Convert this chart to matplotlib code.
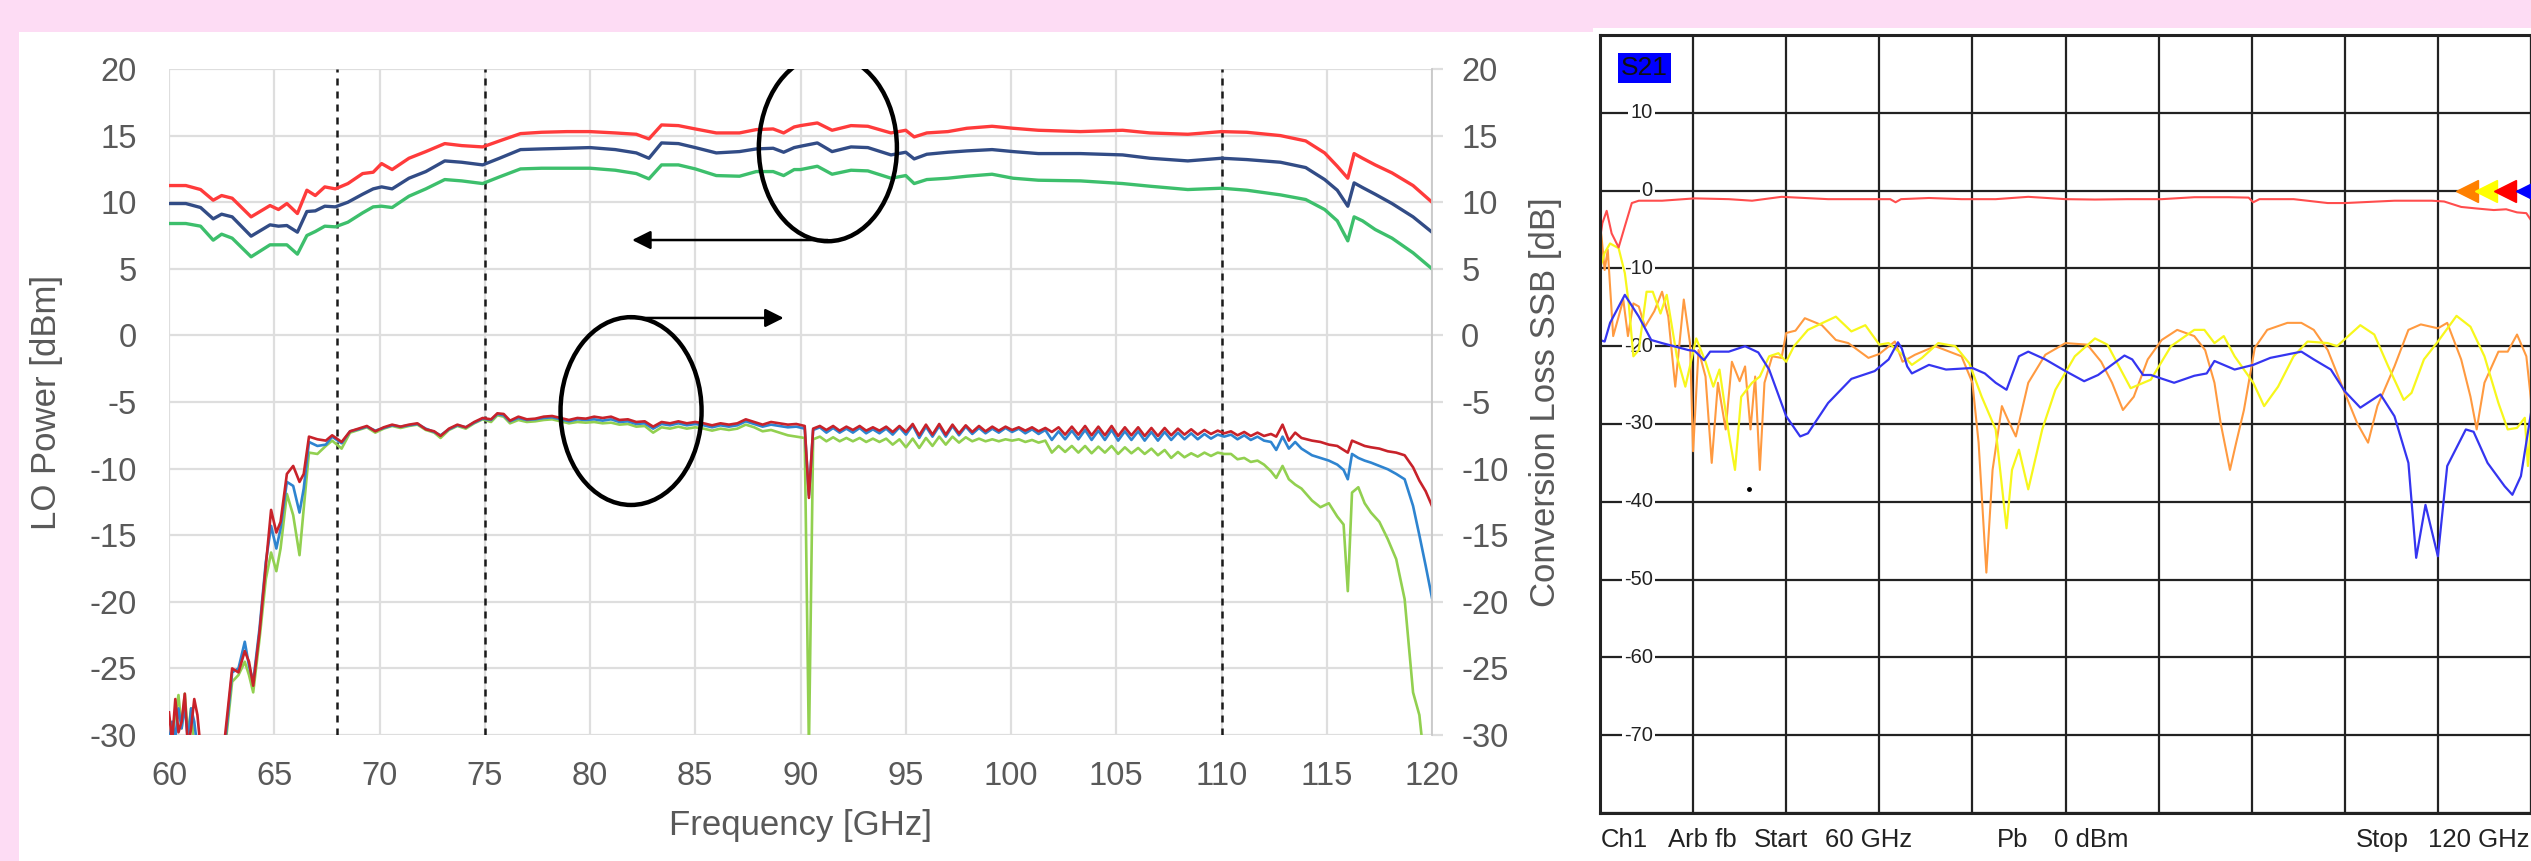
"""Frequency response figure: LO power / conversion loss (left) and VNA S21 capture (right)."""
import matplotlib
matplotlib.use("Agg")
import matplotlib.pyplot as plt
from matplotlib.patches import Ellipse, Rectangle

plt.rcParams["font.family"] = ["Liberation Sans", "DejaVu Sans"]
plt.rcParams["axes.unicode_minus"] = False

W, H = 2531, 861

# ---------------------------------------------------------------- left chart data
lo_freq = [60.0, 60.8, 61.5, 62.1, 62.5, 63.0, 63.9, 64.8, 65.2, 65.6, 66.1, 66.55, 66.95, 67.4,
           67.9, 68.5, 69.2, 69.7, 70.1, 70.6, 71.4, 72.2, 73.1, 73.9, 74.9, 75.7, 76.7, 77.7,
           78.9, 80.0, 81.2, 82.2, 82.8, 83.4, 84.2, 85.0, 86.0, 87.1, 87.9, 88.7, 89.2, 89.7,
           90.0, 90.8, 91.5, 92.4, 93.2, 94.3, 95.0, 95.4, 96.0, 97.0, 97.9, 99.1, 100.1, 101.3,
           103.3, 105.3, 106.6, 108.4, 110.0, 111.2, 112.8, 114.0, 114.9, 115.5, 116.0, 116.3,
           116.7, 117.3, 118.1, 119.1, 120.0]
lo_red = [11.25, 11.25, 10.95, 10.15, 10.5, 10.3, 8.9, 9.75, 9.45, 9.9, 9.15, 10.9, 10.5, 11.15,
          11.0, 11.4, 12.15, 12.25, 12.9, 12.45, 13.3, 13.8, 14.4, 14.25, 14.15, 14.6, 15.15, 15.25,
          15.3, 15.3, 15.2, 15.1, 14.75, 15.8, 15.75, 15.5, 15.2, 15.2, 15.45, 15.5, 15.2, 15.65,
          15.75, 15.95, 15.4, 15.75, 15.7, 15.2, 15.4, 14.9, 15.2, 15.3, 15.55, 15.7, 15.55, 15.4,
          15.3, 15.4, 15.2, 15.1, 15.3, 15.25, 15.0, 14.6, 13.7, 12.7, 11.8, 13.65,
          13.3, 12.8, 12.2, 11.25, 10.0]
lo_navy = [9.9, 9.9, 9.6, 8.75, 9.1, 8.9, 7.45, 8.3, 8.2, 8.25, 7.75, 9.3, 9.35, 9.7,
           9.65, 10.0, 10.6, 11.0, 11.15, 11.0, 11.8, 12.3, 13.1, 13.0, 12.8, 13.3, 13.95, 14.0,
           14.05, 14.1, 13.95, 13.7, 13.3, 14.45, 14.4, 14.1, 13.7, 13.8, 14.0, 14.05, 13.75, 14.1,
           14.2, 14.45, 13.8, 14.15, 14.1, 13.55, 13.75, 13.25, 13.6, 13.75, 13.85, 13.95, 13.8, 13.65,
           13.65, 13.55, 13.3, 13.1, 13.3, 13.2, 13.0, 12.6, 11.7, 10.9, 9.7, 11.45,
           11.1, 10.6, 9.9, 8.9, 7.75]
lo_green = [8.4, 8.4, 8.2, 7.15, 7.6, 7.3, 5.9, 6.8, 6.8, 6.8, 6.1, 7.5, 7.8, 8.2,
            8.15, 8.5, 9.2, 9.65, 9.7, 9.6, 10.45, 11.0, 11.7, 11.6, 11.4, 11.9, 12.5, 12.55,
            12.55, 12.55, 12.4, 12.15, 11.75, 12.8, 12.8, 12.5, 12.0, 11.95, 12.3, 12.3, 12.0, 12.45,
            12.45, 12.7, 12.1, 12.4, 12.35, 11.8, 12.0, 11.4, 11.7, 11.8, 11.95, 12.1, 11.8, 11.65,
            11.6, 11.4, 11.2, 10.95, 11.05, 10.9, 10.55, 10.2, 9.45, 8.6, 7.1, 8.9,
            8.6, 7.95, 7.3, 6.2, 5.0]

cl_freq = [
    # noisy start
    60.0, 60.15, 60.3, 60.45, 60.6, 60.75, 60.9, 61.05, 61.2, 61.35, 61.5, 61.65, 62.2, 62.6,
    # rise
    62.8, 63.0, 63.3, 63.6, 63.8, 64.0, 64.3, 64.6, 64.85, 65.1, 65.3, 65.6, 65.9, 66.2, 66.4,
    66.65, 67.05, 67.45, 67.75, 68.2,
    # flat part
    68.6, 69.0, 69.4, 69.8, 70.2, 70.6, 71.0, 71.4, 71.8, 72.2, 72.6, 72.9, 73.3, 73.7, 74.1,
    74.5, 74.9, 75.3, 75.6, 75.9, 76.2, 76.6, 77.0, 77.4, 77.8, 78.2, 78.6, 79.0, 79.4, 79.8,
    80.2, 80.6, 81.0, 81.4, 81.8, 82.2, 82.6, 83.0, 83.4, 83.8, 84.2, 84.6, 85.0, 85.4, 85.8,
    86.2, 86.6, 87.0, 87.4, 87.8, 88.2, 88.6, 89.0, 89.4, 89.8, 90.2,
    # spike
    90.4,
    # ripple
    90.6, 90.92, 91.23, 91.55, 91.86, 92.18, 92.49, 92.81, 93.12, 93.44, 93.75, 94.07, 94.38,
    94.7, 95.01, 95.33, 95.64, 95.96, 96.27, 96.59, 96.9, 97.22, 97.53, 97.85, 98.16, 98.48,
    98.79, 99.11, 99.42, 99.74, 100.05, 100.37, 100.68, 101.0, 101.31, 101.63, 101.94, 102.26,
    102.57, 102.89, 103.2, 103.52, 103.83, 104.15, 104.46, 104.78, 105.09, 105.41, 105.72,
    106.04, 106.35, 106.67, 106.98, 107.3, 107.61, 107.93, 108.24, 108.56, 108.87, 109.19,
    109.5, 109.82, 110.13, 110.45, 110.76, 111.08, 111.39, 111.71, 112.02,
    # roll-off
    112.35, 112.6, 112.9, 113.2, 113.5, 113.8, 114.3, 114.7, 115.1, 115.5, 115.8, 116.0, 116.2,
    116.5, 116.8, 117.1, 117.5, 117.9, 118.3, 118.7, 119.1, 119.4, 119.7, 120.0]
cl_red = [
    -28.3, -30.5, -27.3, -29.8, -29.0, -26.9, -31.0, -29.5, -27.3, -28.5, -31.0, -33.0, -33.0, -31.0,
    -28.0, -25.0, -25.3, -23.7, -24.5, -26.3, -22.3, -17.3, -13.1, -14.8, -14.0, -10.4, -9.8, -11.0,
    -10.4, -7.6, -7.8, -7.9, -7.5, -8.0,
    -7.2, -7.0, -6.8, -7.2, -6.9, -6.7, -6.85, -6.7, -6.6, -7.05, -7.2, -7.55, -7.0, -6.7, -6.9,
    -6.5, -6.2, -6.3, -5.85, -5.9, -6.4, -6.1, -6.3, -6.25, -6.1, -6.05, -6.2, -6.35, -6.2, -6.25,
    -6.1, -6.2, -6.1, -6.35, -6.3, -6.5, -6.45, -6.85, -6.5, -6.6, -6.45, -6.6, -6.5, -6.6, -6.75,
    -6.6, -6.7, -6.6, -6.3, -6.5, -6.7, -6.5, -6.6, -6.7, -6.65, -6.8,
    -12.2,
    -7.0, -6.8, -7.1, -6.8, -7.15, -6.85, -7.1, -6.8, -7.15, -6.9, -7.15, -6.85, -7.25,
    -6.8, -7.25, -6.65, -7.5, -6.7, -7.45, -6.65, -7.45, -6.7, -7.35, -6.75, -7.25, -6.8,
    -7.2, -6.85, -7.15, -6.85, -7.1, -6.9, -7.15, -6.9, -7.2, -6.95, -7.25, -6.9,
    -7.45, -6.85, -7.45, -6.8, -7.5, -6.85, -7.5, -6.8, -7.55, -6.9, -7.5,
    -6.9, -7.55, -6.95, -7.55, -6.95, -7.5, -7.0, -7.45, -7.05, -7.45, -7.1,
    -7.4, -7.15, -7.35, -7.2, -7.5, -7.25, -7.55, -7.3, -7.55,
    -7.4, -7.6, -6.7, -7.9, -7.3, -7.7, -7.9, -8.0, -8.2, -8.3, -8.6, -8.8, -7.9,
    -8.1, -8.3, -8.4, -8.5, -8.7, -8.8, -9.0, -9.9, -10.9, -11.7, -12.8]
cl_blue = [
    -30.5, -29.0, -30.2, -28.0, -29.5, -27.8, -30.5, -28.0, -29.0, -31.0, -33.0, -33.0, -33.0, -31.5,
    -28.5, -25.3, -25.0, -23.0, -24.8, -26.0, -22.0, -17.0, -14.3, -16.0, -14.5, -11.0, -11.3, -13.3,
    -11.5, -8.0, -8.3, -8.2, -7.6, -8.1,
    -7.2, -7.05, -6.85, -7.15, -6.95, -6.75, -6.85, -6.75, -6.65, -7.0, -7.25, -7.5, -7.05, -6.75, -6.9,
    -6.55, -6.25, -6.35, -5.9, -6.0, -6.45, -6.2, -6.35, -6.3, -6.2, -6.15, -6.3, -6.45, -6.3, -6.35,
    -6.3, -6.4, -6.3, -6.5, -6.45, -6.65, -6.6, -7.0, -6.65, -6.75, -6.6, -6.75, -6.65, -6.75, -6.9,
    -6.75, -6.85, -6.75, -6.45, -6.65, -6.85, -6.7, -6.8, -6.9, -6.85, -7.0,
    -12.0,
    -7.1, -6.9, -7.3, -6.95, -7.3, -7.0, -7.3, -6.95, -7.35, -7.05, -7.35, -7.0, -7.45,
    -6.9, -7.45, -6.75, -7.7, -6.85, -7.6, -6.8, -7.6, -6.8, -7.5, -6.85, -7.4, -6.95,
    -7.35, -7.0, -7.3, -6.95, -7.25, -7.0, -7.35, -7.05, -7.4, -7.1, -7.85, -7.2,
    -7.8, -7.15, -7.8, -7.1, -7.85, -7.15, -7.85, -7.1, -7.9, -7.2, -7.85,
    -7.2, -7.9, -7.25, -7.9, -7.25, -7.85, -7.3, -7.8, -7.35, -7.8, -7.4,
    -7.75, -7.45, -7.6, -7.45, -7.8, -7.5, -7.85, -7.6, -7.9,
    -8.0, -8.6, -7.6, -8.5, -8.0, -8.5, -9.0, -9.2, -9.4, -9.7, -10.1, -10.8, -8.9,
    -9.2, -9.4, -9.55, -9.8, -10.05, -10.4, -10.8, -12.8, -15.0, -17.3, -19.7]
cl_green = [
    -31.0, -30.0, -28.5, -27.0, -29.5, -26.9, -30.0, -28.0, -31.0, -33.0, -33.0, -33.0, -33.0, -32.0,
    -29.0, -26.0, -25.5, -24.5, -25.5, -26.8, -22.8, -18.3, -16.3, -17.7, -16.0, -11.9, -13.5, -16.5,
    -13.0, -8.8, -8.9, -8.3, -7.9, -8.5,
    -7.3, -7.1, -6.9, -7.3, -7.0, -6.8, -6.95, -6.8, -6.7, -7.1, -7.3, -7.7, -7.1, -6.8, -7.0,
    -6.6, -6.3, -6.5, -6.0, -6.1, -6.6, -6.35, -6.5, -6.45, -6.35, -6.3, -6.45, -6.6, -6.5, -6.55,
    -6.5, -6.6, -6.55, -6.7, -6.65, -6.85, -6.8, -7.3, -6.9, -7.0, -6.85, -7.0, -6.9, -7.0, -7.15,
    -7.0, -7.1, -7.0, -6.7, -6.9, -7.2, -7.1, -7.3, -7.5, -7.6, -7.7,
    -31.0,
    -7.8, -7.6, -7.95, -7.65, -7.95, -7.7, -7.95, -7.7, -8.0, -7.75, -8.0, -7.75, -8.2,
    -7.8, -8.4, -7.75, -8.45, -7.7, -8.3, -7.6, -8.2, -7.6, -8.05, -7.65, -7.95, -7.75,
    -7.95, -7.8, -7.95, -7.8, -7.9, -7.8, -8.0, -7.85, -8.05, -7.9, -8.8, -8.3,
    -8.75, -8.3, -8.8, -8.3, -8.85, -8.35, -8.8, -8.3, -8.9, -8.4, -8.85,
    -8.45, -8.9, -8.5, -9.0, -8.6, -9.2, -8.75, -9.15, -8.85, -9.1, -8.8,
    -9.05, -8.8, -8.9, -8.9, -9.3, -9.2, -9.5, -9.4, -9.7,
    -10.2, -10.7, -9.8, -10.8, -11.2, -11.5, -12.4, -12.9, -12.6, -13.6, -14.2, -19.2, -11.8,
    -11.4, -12.6, -13.3, -14.0, -15.3, -16.8, -19.8, -26.8, -28.5, -33.0, -33.0]

band_edges = [68, 75, 110]
left_ticks = [-30, -25, -20, -15, -10, -5, 0, 5, 10, 15, 20]
freq_ticks = [60, 65, 70, 75, 80, 85, 90, 95, 100, 105, 110, 115, 120]

# ---------------------------------------------------------------- VNA capture data
vna_red_f = [60.0, 60.15, 60.43, 60.75, 61.2, 61.6, 62.05, 62.5, 64.0, 66.1, 68.3, 69.8, 71.7,
             74.7, 76.9, 78.7, 79.05, 79.4, 81.2, 83.3, 85.5, 87.6, 90.0, 91.9, 94.0, 96.2, 98.3,
             100.5, 101.8, 102.1, 102.5, 104.7, 106.9, 108.0, 111.2, 113.6, 114.4, 115.5, 116.5,
             117.6, 118.4, 119.1, 119.7, 120.0]
vna_red = [-6.3, -4.2, -2.6, -5.5, -7.3, -4.6, -1.6, -1.3, -1.3, -1.0, -1.1, -1.3, -0.8,
           -1.1, -1.1, -1.1, -1.5, -1.1, -0.95, -1.1, -1.1, -0.8, -1.1, -1.15, -1.1, -1.1, -0.85,
           -0.85, -0.9, -1.5, -1.1, -1.1, -1.6, -1.6, -1.3, -1.3, -1.4, -2.1, -2.3,
           -2.5, -2.4, -2.8, -2.9, -3.8]

vna_blue_f = [60.0, 60.3, 60.65, 61.6, 62.5, 63.3, 64.0, 65.7, 66.1, 66.7, 67.1, 68.3, 69.35,
              70.2, 70.9, 72.0, 72.9, 73.4, 74.7, 76.2, 77.7, 78.6, 79.2, 79.45, 79.8, 80.1, 81.2,
              82.3, 84.0, 84.8, 85.5, 86.2, 87.0, 87.6, 88.7, 90.0, 91.2, 92.1, 93.8, 94.3, 95.0,
              95.5, 97.0, 98.3, 99.1, 99.6, 100.9, 102.1, 103.2, 105.2, 106.0, 107.1, 108.0, 109.0,
              110.3, 111.2, 112.1, 112.6, 113.2, 114.0, 114.6, 115.8, 116.3, 117.2, 118.3, 118.8,
              119.35, 120.0]
vna_blue = [-19.2, -19.4, -17.0, -13.4, -16.2, -19.2, -19.6, -20.5, -20.6, -21.8, -20.7, -20.7, -20.0,
            -20.8, -23.0, -29.0, -31.6, -31.2, -27.3, -24.2, -23.2, -21.7, -19.5, -20.3, -22.6, -23.5, -22.4,
            -23.0, -22.8, -23.5, -24.7, -25.6, -21.3, -20.7, -21.7, -23.2, -24.5, -23.7, -21.2, -21.7, -23.7,
            -23.7, -24.7, -23.8, -23.5, -21.9, -23.0, -22.4, -21.5, -20.7, -21.7, -23.0, -25.8, -27.9,
            -26.2, -29.0, -35.0, -47.2, -40.4, -47.0, -35.4, -30.7, -31.0, -35.0, -38.0, -39.1,
            -36.7, -28.6]

vna_yellow_f = [60.0, 60.3, 60.65, 61.2, 61.6, 61.85, 62.15, 62.5, 63.0, 63.4, 63.9, 64.3, 64.95,
                65.5, 66.2, 66.8, 67.3, 67.7, 68.3, 68.7, 69.1, 69.8, 70.3, 70.9, 71.5, 72.0, 72.5,
                73.4, 75.2, 76.2, 77.1, 78.0, 78.6, 79.5, 80.1, 80.75, 81.8, 82.9, 83.8, 84.6, 85.5,
                86.2, 86.55, 87.0, 87.6, 88.5, 89.35, 90.6, 91.9, 92.7, 94.2, 95.5, 96.8, 98.3, 98.95,
                99.6, 100.2, 100.9, 102.1, 102.8, 103.7, 104.7, 105.6, 106.9, 107.5, 109.0, 109.9,
                110.8, 111.8, 112.3, 113.1, 114.0, 115.2, 116.1, 117.0, 117.9, 118.5, 119.1, 119.6,
                119.8, 120.0]
vna_yellow = [-10.0, -8.0, -6.8, -7.4, -10.6, -14.5, -21.3, -20.5, -13.0, -13.0, -15.8, -13.4, -21.3,
              -25.2, -19.0, -22.0, -25.2, -23.0, -31.2, -35.9, -26.5, -24.7, -23.9, -21.3, -20.9, -22.0, -20.0,
              -17.9, -16.2, -18.1, -17.3, -19.8, -19.6, -21.1, -22.4, -21.5, -19.6, -20.0, -22.2, -26.5, -30.7,
              -43.4, -35.9, -33.3, -38.4, -30.7, -25.6, -21.3, -19.0, -19.8, -25.4, -24.3, -20.0, -17.9, -17.9,
              -19.6, -18.7, -21.3, -24.7, -27.7, -25.2, -21.3, -19.4, -19.6, -20.0, -17.3, -18.5,
              -22.6, -26.9, -26.0, -21.7, -19.4, -16.1, -17.5, -21.3, -27.3, -30.7, -30.5, -29.2,
              -35.4, -30.0]

vna_orange_f = [60.0, 60.1, 60.3, 60.5, 60.85, 61.2, 61.5, 61.8, 62.15, 62.5, 62.9, 63.5, 64.0, 64.4,
                64.85, 65.4, 65.8, 66.0, 66.35, 66.8, 67.2, 67.6, 68.1, 68.5, 69.0, 69.35, 69.7, 70.0,
                70.3, 70.6, 71.1, 71.7, 72.0, 72.6, 73.2, 74.3, 75.2, 76.0, 77.3, 78.0, 79.0, 79.5,
                80.3, 81.6, 83.3, 84.0, 84.4, 84.9, 85.3, 85.9, 86.3, 86.8, 87.6, 88.7, 90.0, 91.4,
                92.3, 93.0, 93.7, 94.4, 95.3, 96.2, 97.2, 98.3, 99.0, 99.6, 100.0, 100.6, 101.0, 101.5,
                102.2, 103.0, 104.3, 105.2, 106.0, 106.9, 108.0, 108.8, 109.5, 110.1, 111.2, 112.1,
                112.9, 114.0, 114.6, 115.5, 116.1, 116.5, 117.0, 117.9, 118.5, 119.1, 119.7, 120.0]
vna_orange = [-4.2, -6.0, -10.2, -7.6, -18.7, -16.2, -14.0, -18.7, -14.5, -14.9, -17.5, -15.5, -13.0, -16.2,
              -25.2, -14.0, -19.6, -33.5, -20.5, -23.9, -35.0, -24.7, -30.7, -22.0, -24.5, -22.6, -30.7, -23.9,
              -35.9, -24.7, -21.3, -21.5, -18.3, -18.0, -16.4, -17.3, -19.2, -19.6, -21.5, -21.0, -19.4, -22.0,
              -21.1, -20.0, -21.3, -24.7, -32.4, -49.1, -35.9, -27.7, -29.5, -31.6, -24.7, -21.1, -19.6, -19.8,
              -22.0, -24.7, -28.2, -26.5, -21.7, -19.2, -17.9, -18.7, -20.5, -24.7, -29.9, -35.9, -32.4, -28.2,
              -20.2, -17.9, -17.0, -17.0, -17.9, -20.5, -26.0, -29.9, -32.4, -27.7, -22.6, -17.9,
              -17.2, -17.7, -17.0, -21.7, -26.5, -30.7, -24.7, -20.7, -20.7, -18.5, -21.3, -26.9]

vna_marker_f = [115.87, 117.1, 118.3, 119.75]
vna_marker_colors = ["#ff8000", "#ffff00", "#ff0000", "#0000ff"]
vna_level_ticks = [10, 0, -10, -20, -30, -40, -50, -60, -70]

GRAY = "#595959"
GRID = "#dedede"


def fx(px):
    return px / W


def fy(py):
    return 1 - py / H


fig = plt.figure(figsize=(W / 100, H / 100), dpi=100, facecolor="#fddcf4")

# white panels of the composite (behind the axes)
fig.patches.append(Rectangle((fx(19), 0), fx(1593) - fx(19), fy(32), transform=fig.transFigure,
                             facecolor="white", edgecolor="none", zorder=-5))
fig.patches.append(Rectangle((fx(1593), 0), 1 - fx(1593), fy(28), transform=fig.transFigure,
                             facecolor="white", edgecolor="none", zorder=-5))

# ---------------------------------------------------------------- left chart
ax = fig.add_axes([fx(169), fy(735), fx(1432) - fx(169), fy(69) - fy(735)])
ax.set_facecolor("none")
ax.set_xlim(60, 120)
ax.set_ylim(-30, 20)
ax.set_xticks(freq_ticks)
ax.set_yticks(left_ticks)
ax.grid(True, color=GRID, lw=1.6)
ax.set_axisbelow(True)
for s in ax.spines.values():
    s.set_visible(False)
ax.tick_params(axis="both", length=0, labelsize=23.5, labelcolor=GRAY)
ax.tick_params(axis="x", pad=19)
ax.tick_params(axis="y", pad=23)

ax2 = ax.twinx()
ax2.set_ylim(-30, 20)
ax2.set_yticks(left_ticks)
for side, s in ax2.spines.items():
    s.set_visible(side == "right")
ax2.spines["right"].set_color("#c8c8c8")
ax2.spines["right"].set_linewidth(1.3)
ax2.tick_params(axis="y", length=8, width=1.6, color=GRID, labelsize=23.5, labelcolor=GRAY, pad=13)

for f in band_edges:
    ax.axvline(f, color="#1a1a1a", lw=1.8, ls=(0, (2.8, 2.4)), zorder=3)

ax.plot(lo_freq, lo_red, color="#ff3b3b", lw=2.4, zorder=4)
ax.plot(lo_freq, lo_navy, color="#324c86", lw=2.4, zorder=4)
ax.plot(lo_freq, lo_green, color="#3dbf6c", lw=2.4, zorder=4)

ax.plot(cl_freq, cl_green, color="#92d050", lw=1.9, zorder=4)
ax.plot(cl_freq, cl_blue, color="#2e84d0", lw=1.9, zorder=4)
ax.plot(cl_freq, cl_red, color="#c8222a", lw=1.9, zorder=4)

# annotation ellipses + arrows showing which axis each group belongs to
ax.add_patch(Ellipse((91.3, 14.07), 6.56, 14.0, fill=False, ec="black", lw=3.2, zorder=5))
ax.add_patch(Ellipse((81.95, -5.68), 6.7, 14.1, fill=False, ec="black", lw=3.2, zorder=5))
ax.annotate("", xy=(82.0, 7.16), xytext=(91.3, 7.16),
            arrowprops=dict(arrowstyle="-|>", color="black", lw=1.8, mutation_scale=28,
                            shrinkA=0, shrinkB=0), zorder=5)
ax.annotate("", xy=(89.2, 1.31), xytext=(81.9, 1.31),
            arrowprops=dict(arrowstyle="-|>", color="black", lw=1.8, mutation_scale=28,
                            shrinkA=0, shrinkB=0), zorder=5)

fig.text(fx(800), fy(826), "Frequency [GHz]", ha="center", va="center", fontsize=25, color=GRAY)
fig.text(fx(47), fy(402), "LO Power [dBm]", ha="center", va="center", rotation=90,
         fontsize=25, color=GRAY)
fig.text(fx(1545), fy(402), "Conversion Loss SSB [dB]", ha="center", va="center", rotation=90,
         fontsize=25, color=GRAY)

# ---------------------------------------------------------------- VNA capture
vx = fig.add_axes([fx(1600), fy(813), 1 - fx(1600), fy(35) - fy(813)])
vx.set_facecolor("white")
vx.set_xlim(60, 120)
vx.set_ylim(-80, 20)
vx.set_xticks(range(60, 121, 6))
vx.set_yticks(range(-80, 21, 10))
vx.grid(True, color="#222222", lw=1.6)
vx.set_axisbelow(True)
vx.tick_params(length=0, labelbottom=False, labelleft=False)
for s in vx.spines.values():
    s.set_color("#222222")
    s.set_linewidth(2.2)

for lv in vna_level_ticks:
    vx.text(63.4, lv, str(lv), ha="right", va="center", fontsize=14.5, color="#222222",
            bbox=dict(facecolor="white", edgecolor="none", pad=1.5), zorder=1.5)

vx.plot(vna_orange_f, vna_orange, color="#ff9a40", lw=1.5)
vx.plot(vna_yellow_f, vna_yellow, color="#f7f71c", lw=1.6)
vx.plot(vna_blue_f, vna_blue, color="#3535f0", lw=1.6)
vx.plot(vna_red_f, vna_red, color="#ff4d4d", lw=1.5)
vx.plot([69.6], [-38.4], "o", color="black", ms=2.5)

for f, c in zip(vna_marker_f, vna_marker_colors):
    vx.plot([f], [0], marker="<", ms=16, color=c, mec=c, clip_on=False, zorder=6)

vx.text(62.87, 15.8, "S21", ha="center", va="center", fontsize=19, color="#111111",
        bbox=dict(facecolor="#0000ff", edgecolor="none", boxstyle="square,pad=0.12"))

for px, label in [(1601, "Ch1"), (1668, "Arb fb"), (1754, "Start"), (1825, "60 GHz"),
                  (1997, "Pb"), (2054, "0 dBm"), (2356, "Stop")]:
    fig.text(fx(px), fy(840), label, ha="left", va="center", fontsize=18.5, color="#222222")
fig.text(fx(2530), fy(840), "120 GHz", ha="right", va="center", fontsize=18.5, color="#222222")

fig.savefig("out.png", dpi=100, facecolor=fig.get_facecolor())
